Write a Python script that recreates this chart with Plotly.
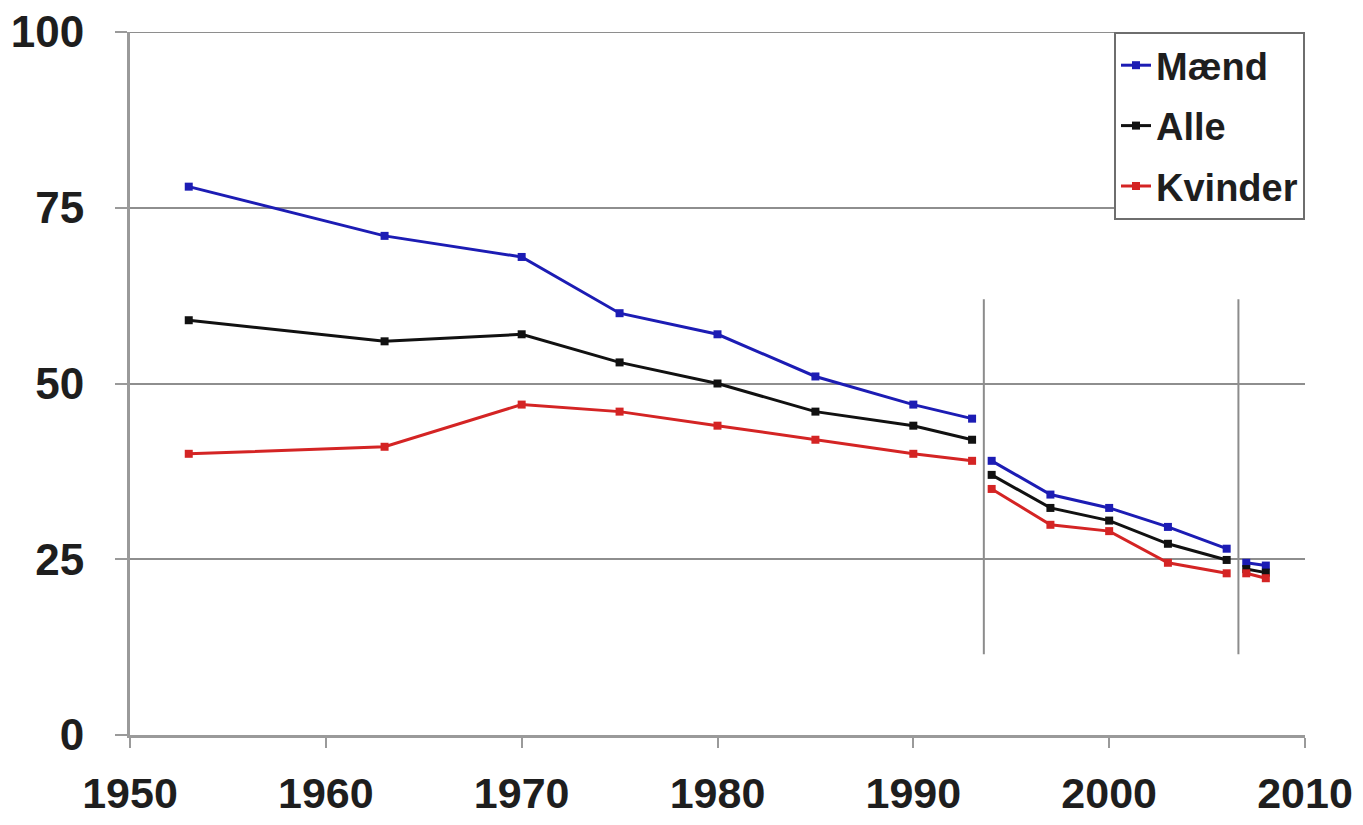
import plotly.graph_objects as go

years = [1953, 1963, 1970, 1975, 1980, 1985, 1990, 1993, None,
         1994, 1997, 2000, 2003, 2006, None, 2007, 2008]
maend = [78, 71, 68, 60, 57, 51, 47, 45, None,
         39, 34.2, 32.3, 29.6, 26.5, None, 24.5, 24.1]
alle = [59, 56, 57, 53, 50, 46, 44, 42, None,
        37, 32.3, 30.5, 27.2, 24.9, None, 23.6, 23.1]
kvinder = [40, 41, 47, 46, 44, 42, 40, 39, None,
           35, 29.9, 29, 24.5, 23, None, 23, 22.3]
series_names = ["Mænd", "Alle", "Kvinder"]
series_colors = ["#1c1cb4", "#111111", "#d42424"]
break_years = [1993.6, 2006.6]
break_span = [11.5, 62]
x_ticks = [1950, 1960, 1970, 1980, 1990, 2000, 2010]
y_ticks = [0, 25, 50, 75, 100]

fig = go.Figure()
for name, vals, col in zip(series_names, [maend, alle, kvinder], series_colors):
    fig.add_trace(go.Scatter(
        x=years, y=vals, name=name, mode="lines+markers",
        legendgroup=name,
        line=dict(color=col, width=3),
        marker=dict(color=col, size=8, symbol="square"),
        connectgaps=False,
    ))

for bx in break_years:
    fig.add_shape(type="line", xref="x", yref="y",
                  x0=bx, x1=bx, y0=break_span[0], y1=break_span[1],
                  line=dict(color="#8c8c8c", width=2), layer="below")

# top gridline at the highest tick
fig.add_shape(type="line", xref="paper", yref="y",
              x0=0, x1=1, y0=y_ticks[-1], y1=y_ticks[-1],
              line=dict(color="#8e8e8e", width=2), layer="below")

font_family = "Liberation Sans, Arial, sans-serif"
fig.update_layout(
    width=1363, height=825,
    paper_bgcolor="white", plot_bgcolor="white",
    margin=dict(l=122, r=66, t=24, b=98, autoexpand=False),
    font=dict(family=font_family, color="#1e1e1e"),
    showlegend=True,
    legend=dict(
        x=1, y=1, xanchor="right", yanchor="top",
        bgcolor="white", bordercolor="#6e6e6e", borderwidth=2,
        font=dict(size=38, family=font_family, color="#1e1e1e", weight="bold"),
        itemwidth=30, tracegroupgap=8,
    ),
    xaxis=dict(
        range=[1950, 2010], tickvals=x_ticks, showgrid=False,
        showline=True, linecolor="#9a9a9a", linewidth=3,
        ticks="outside", ticklen=10, tickcolor="#9a9a9a", tickwidth=2,
        tickfont=dict(size=43, family=font_family, color="#1e1e1e", weight="bold"),
        ticklabelstandoff=8, ticklabeloverflow="allow",
        zeroline=False, automargin=False,
    ),
    yaxis=dict(
        range=[0, 100], tickvals=y_ticks, showgrid=True,
        gridcolor="#8e8e8e", gridwidth=2,
        showline=True, linecolor="#9a9a9a", linewidth=3,
        ticks="outside", ticklen=12, tickcolor="#9a9a9a", tickwidth=2,
        tickfont=dict(size=44, family=font_family, color="#1e1e1e", weight="bold"),
        ticklabelstandoff=22, ticklabeloverflow="allow",
        zeroline=False, automargin=False,
    ),
)

fig.write_html("out.html")
